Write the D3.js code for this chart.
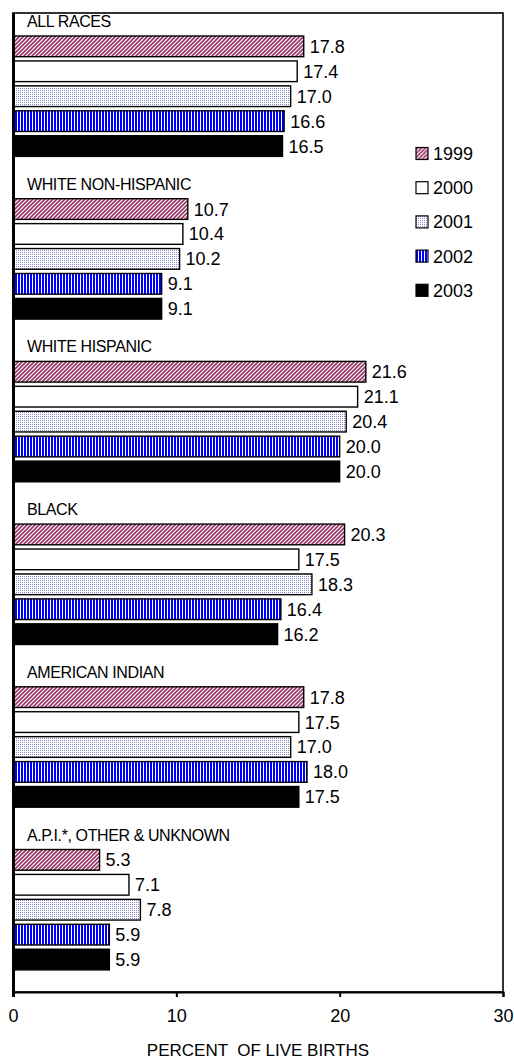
<!DOCTYPE html>
<html>
<head>
<meta charset="utf-8">
<script src="https://cdn.jsdelivr.net/npm/d3@7"></script>
<style>
  html, body { margin: 0; padding: 0; background: #fff; }
  svg { display: block; font-family: Arial, "Liberation Sans", sans-serif; }
</style>
</head>
<body>
<svg id="chart" width="514" height="1061"></svg>
<script>
// ---- data ----
const groups = ["ALL RACES", "WHITE NON-HISPANIC", "WHITE HISPANIC", "BLACK", "AMERICAN INDIAN", "A.P.I.*, OTHER & UNKNOWN"];
const years = ["1999", "2000", "2001", "2002", "2003"];
const v1999 = [17.8, 10.7, 21.6, 20.3, 17.8, 5.3];
const v2000 = [17.4, 10.4, 21.1, 17.5, 17.5, 7.1];
const v2001 = [17.0, 10.2, 20.4, 18.3, 17.0, 7.8];
const v2002 = [16.6, 9.1, 20.0, 16.4, 18.0, 5.9];
const v2003 = [16.5, 9.1, 20.0, 16.2, 17.5, 5.9];
const xTicks = [0, 10, 20, 30];
const xTitle = "PERCENT  OF LIVE BIRTHS";

const seriesValues = [v1999, v2000, v2001, v2002, v2003];
const rows = [];
groups.forEach((g, gi) => {
  years.forEach((y, yi) => rows.push({ group: g, year: y, value: seriesValues[yi][gi] }));
});

// ---- layout ----
const svg = d3.select("#chart");
const plot = { left: 13, right: 503, top: 13, bottom: 992 };

const x = d3.scaleLinear().domain([0, 30]).range([plot.left, plot.right]);
const yGroup = d3.scaleBand().domain(groups).range([plot.top, plot.top + 6 * 162.7]).padding(0);
const yBar = d3.scaleBand().domain(years).range([23, 23 + 120.4]).paddingInner(0.17).paddingOuter(0);

// ---- patterns ----
const defs = svg.append("defs");
const p1 = defs.append("pattern").attr("id", "p1999").attr("patternUnits", "userSpaceOnUse")
  .attr("width", 4).attr("height", 4);
p1.append("rect").attr("width", 4).attr("height", 4).attr("fill", "#fff");
p1.append("path").attr("d", "M-1,1 L1,-1 M0,4 L4,0 M3,5 L5,3")
  .attr("stroke", "#993366").attr("stroke-width", 1.6);

const p3 = defs.append("pattern").attr("id", "p2001").attr("patternUnits", "userSpaceOnUse")
  .attr("width", 2).attr("height", 2);
p3.append("rect").attr("width", 2).attr("height", 2).attr("fill", "#fff");
p3.append("rect").attr("width", 1).attr("height", 1).attr("fill", "#8888cc");

const p4 = defs.append("pattern").attr("id", "p2002").attr("patternUnits", "userSpaceOnUse")
  .attr("width", 3).attr("height", 3);
p4.append("rect").attr("width", 3).attr("height", 3).attr("fill", "#fff");
p4.append("rect").attr("width", 2).attr("height", 3).attr("fill", "#0000ff");

const fills = { "1999": "url(#p1999)", "2000": "#ffffff", "2001": "url(#p2001)", "2002": "url(#p2002)", "2003": "#000000" };

// ---- frame ----
svg.append("rect")
  .attr("x", plot.left).attr("y", plot.top)
  .attr("width", plot.right - plot.left).attr("height", plot.bottom - plot.top)
  .attr("fill", "none").attr("stroke", "#000").attr("stroke-width", 1.6);

// ---- bars ----
svg.append("g").selectAll("rect").data(rows).join("rect")
  .attr("x", x(0))
  .attr("y", d => yGroup(d.group) + yBar(d.year))
  .attr("width", d => x(d.value) - x(0))
  .attr("height", yBar.bandwidth())
  .attr("fill", d => fills[d.year])
  .attr("stroke", "#000").attr("stroke-width", 1.4);

// value labels
svg.append("g").selectAll("text").data(rows).join("text")
  .attr("x", d => x(d.value) + 6)
  .attr("y", d => yGroup(d.group) + yBar(d.year) + yBar.bandwidth() / 2)
  .attr("dy", "0.36em")
  .attr("font-size", 18)
  .attr("fill", "#000")
  .text(d => d.value.toFixed(1));

// group labels
svg.append("g").selectAll("text").data(groups).join("text")
  .attr("x", 27)
  .attr("y", g => yGroup(g) + yBar(years[0]) - 9)
  .attr("font-size", 16)
  .attr("letter-spacing", -0.4)
  .attr("fill", "#000")
  .text(g => g);

// left axis line (thick)
svg.append("line")
  .attr("x1", plot.left + 0.5).attr("x2", plot.left + 0.5)
  .attr("y1", plot.top).attr("y2", plot.bottom + 5)
  .attr("stroke", "#000").attr("stroke-width", 3);

// ---- x axis ----
const xAxis = d3.axisBottom(x).tickValues(xTicks).tickSize(5).tickPadding(12).tickFormat(d3.format("d"));
const ax = svg.append("g").attr("transform", `translate(0,${plot.bottom})`).call(xAxis);
ax.select(".domain").attr("stroke", "#000").attr("stroke-width", 2);
ax.selectAll(".tick line").attr("stroke", "#000").attr("stroke-width", 2);
ax.selectAll(".tick text").attr("font-size", 18).attr("fill", "#000")
  .attr("font-family", "Arial, 'Liberation Sans', sans-serif");

svg.append("text")
  .attr("x", (plot.left + plot.right) / 2)
  .attr("y", 1056)
  .attr("text-anchor", "middle")
  .attr("font-size", 17)
  .attr("xml:space", "preserve")
  .style("white-space", "pre")
  .attr("fill", "#000")
  .text(xTitle);

// ---- legend ----
const legend = svg.append("g").selectAll("g").data(years).join("g")
  .attr("transform", (d, i) => `translate(416, ${153.5 + i * 34.2})`);
legend.append("rect")
  .attr("x", 0).attr("y", -6).attr("width", 12).attr("height", 12)
  .attr("fill", d => fills[d]).attr("stroke", "#000").attr("stroke-width", 1.2);
legend.append("text")
  .attr("x", 17).attr("y", 0).attr("dy", "0.36em")
  .attr("font-size", 18).attr("fill", "#000")
  .text(d => d);
</script>
</body>
</html>
